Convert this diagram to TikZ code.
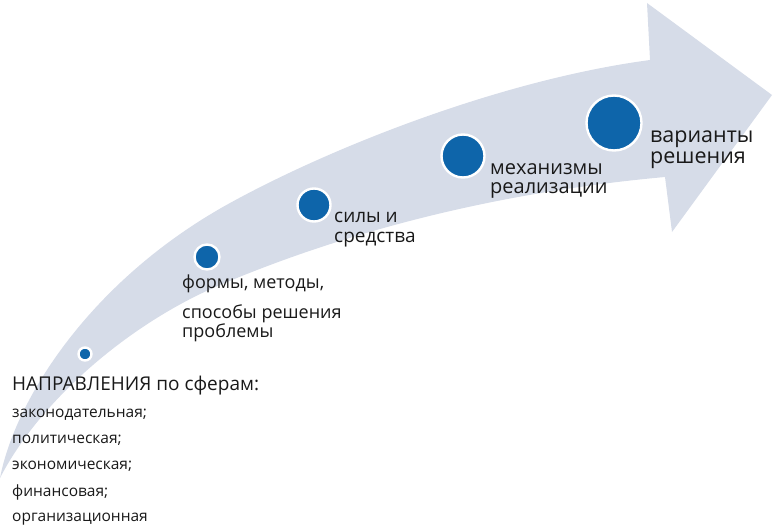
\documentclass[tikz,border=0pt]{standalone}
\usepackage{fontspec}
\setmainfont{Open Sans}
\usetikzlibrary{positioning}
\definecolor{bandgray}{RGB}{214,220,232}
\definecolor{dotblue}{RGB}{14,101,170}
\definecolor{txtgray}{RGB}{25,25,25}

\begin{document}
\begin{tikzpicture}[x=1pt,y=-1pt,
  dot/.style={circle,fill=dotblue,draw=white,line width=2.4pt,inner sep=0pt},
  lbl/.style={anchor=base west,inner sep=0pt,text=txtgray,font=\fontsize{18}{20}\selectfont},
  sml/.style={anchor=base west,inner sep=0pt,text=txtgray,font=\fontsize{15.5}{18}\selectfont}]
  \useasboundingbox (0,0) rectangle (775,527);
  % the curved arrow
  \fill[bandgray] (0,478) .. controls (15,400) and (90,280) .. (230,203)
     .. controls (330,148) and (500,80) .. (650,60) -- (647,3) -- (772,95) -- (672,232)
     -- (665,177) .. controls (500,192) and (350,230) .. (220,285)
     .. controls (130,323) and (40,400) .. cycle;
  % steps
  \node[dot,minimum size=13pt] (d1) at (85,354) {};
  \node[dot,minimum size=25pt] (d2) at (207,257) {};
  \node[dot,minimum size=33pt] (d3) at (314,205) {};
  \node[dot,minimum size=43pt] (d4) at (463,156) {};
  \node[dot,minimum size=55pt] (d5) at (614,123) {};
  % texts
  \node[lbl,font=\fontsize{21.5}{23}\selectfont] (var1) at (650,142) {варианты};
  \node[lbl,font=\fontsize{21.5}{23}\selectfont] (var2) at (650,163) {решения};
  \node[lbl,font=\fontsize{20}{22}\selectfont] (mech1) at (490,174) {механизмы};
  \node[lbl,font=\fontsize{20}{22}\selectfont] (mech2) at (490,193) {реализации};
  \node[lbl,font=\fontsize{19}{21}\selectfont] (sil1) at (334,222) {силы и};
  \node[lbl,font=\fontsize{19}{21}\selectfont] (sil2) at (334,242) {средства};
  \node[lbl] (form1) at (182,288) {формы, методы,};
  \node[lbl] (form2) at (182,318) {способы решения};
  \node[lbl] (form3) at (182,337) {проблемы};
  \node[lbl,font=\fontsize{19}{21}\selectfont] (napr) at (12,390) {НАПРАВЛЕНИЯ по сферам:};
  \node[sml] (sf1) at (12,417) {законодательная;};
  \node[sml] (sf2) at (12,443) {политическая;};
  \node[sml] (sf3) at (12,469) {экономическая;};
  \node[sml] (sf4) at (12,496) {финансовая;};
  \node[sml] (sf5) at (12,521) {организационная};
\end{tikzpicture}
\end{document}
